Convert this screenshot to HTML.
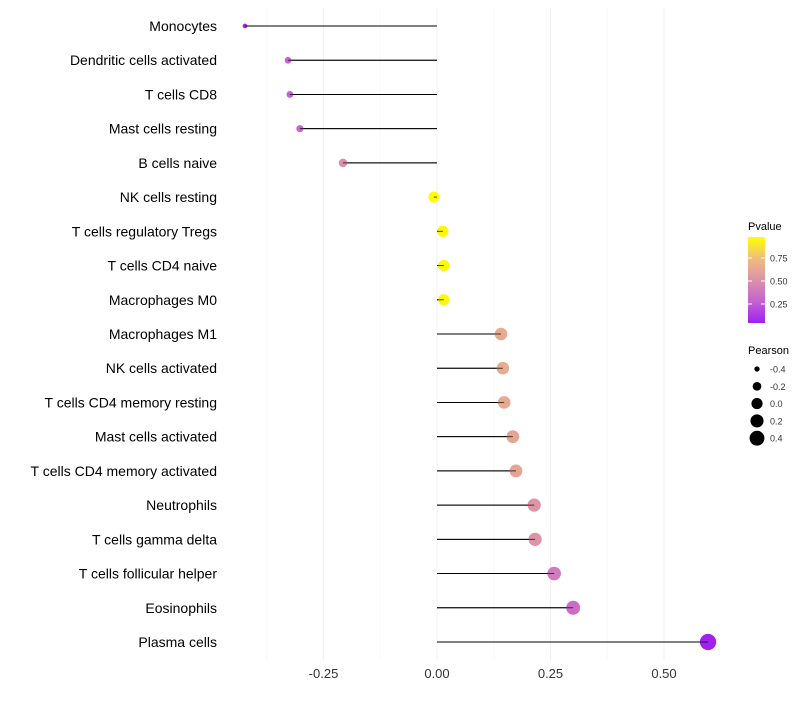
<!DOCTYPE html>
<html><head><meta charset="utf-8"><style>
body{margin:0;background:#fff;font-family:"Liberation Sans",sans-serif}
svg text{font-family:"Liberation Sans",sans-serif}
</style></head><body>
<svg id="chart" width="800" height="700" xmlns="http://www.w3.org/2000/svg">
<defs><linearGradient id="pg" x1="0" y1="1" x2="0" y2="0">
<stop offset="0" stop-color="#a020f0"/><stop offset="0.25" stop-color="#c463d2"/>
<stop offset="0.5" stop-color="#db92a8"/><stop offset="0.75" stop-color="#efbd7e"/><stop offset="1" stop-color="#ffff00"/>
</linearGradient></defs>
<g id="grid"></g>
<g id="marks"></g>
<g id="ylabels"></g>
<g id="xlabels"></g>
<g>
<text x="748" y="230" font-size="11" fill="#000">Pvalue</text>
<rect x="748" y="237" width="17" height="86" fill="url(#pg)"/>
<g id="cbticks"></g>
</g>
<g id="sizeleg">
<text x="748" y="354" font-size="11" fill="#000">Pearson</text>
</g>
</svg>
<script>
const categories=["Monocytes","Dendritic cells activated","T cells CD8","Mast cells resting","B cells naive","NK cells resting","T cells regulatory  Tregs ","T cells CD4 naive","Macrophages M0","Macrophages M1","NK cells activated","T cells CD4 memory resting","Mast cells activated","T cells CD4 memory activated","Neutrophils","T cells gamma delta","T cells follicular helper","Eosinophils","Plasma cells"];
const pearson=[-0.423,-0.328,-0.324,-0.302,-0.207,-0.007,0.013,0.015,0.015,0.141,0.145,0.148,0.167,0.174,0.214,0.216,0.258,0.300,0.597];
const pvalue=[0.06,0.28,0.28,0.30,0.50,0.97,0.95,0.95,0.95,0.65,0.65,0.64,0.62,0.61,0.52,0.52,0.40,0.33,0.05];
const xTicks=[-0.25,0,0.25,0.5];
const xTickLabels=["-0.25","0.00","0.25","0.50"];
const cbTicks=[0.25,0.5,0.75];
const sizeTicks=[-0.4,-0.2,0,0.2,0.4];
const NS="http://www.w3.org/2000/svg";
const x=v=>437+v*454;
const y=i=>26+i*(616/18);
const pY=p=>323-(p-0.043)/(0.978-0.043)*86;
const rad=v=>Math.sqrt(4+(v+0.45)*(60));
function col(p){const st=[[0,[160,32,240]],[0.25,[196,99,210]],[0.5,[219,146,168]],[0.75,[239,189,126]],[1,[255,255,0]]];
 const t=Math.max(0,Math.min(1,(p-0.043)/(0.978-0.043)));
 for(let k=1;k<st.length;k++){if(t<=st[k][0]){const a=st[k-1],b=st[k],f=(t-a[0])/(b[0]-a[0]);return "rgb("+a[1].map((c,j)=>Math.round(c+(b[1][j]-c)*f)).join(",")+")";}}return "rgb(255,255,0)";}
function mk(tag,at,parent){const e=document.createElementNS(NS,tag);for(const k in at)e.setAttribute(k,at[k]);document.getElementById(parent).appendChild(e);return e;}
[-0.375,-0.125,0.125,0.375].forEach(v=>{const l=mk("line",{x1:x(v),x2:x(v),y1:8,y2:660,stroke:"#f8f8f8","stroke-width":1},"grid");

});
xTicks.forEach((v,i)=>{const l=mk("line",{x1:x(v),x2:x(v),y1:8,y2:660,stroke:"#f0f0f0","stroke-width":1},"grid");


const t=mk("text",{x:x(v),y:678,"font-size":13,"text-anchor":"middle",fill:"#333"},"xlabels");t.textContent=xTickLabels[i];

});
categories.forEach((c,i)=>{
 const t=mk("text",{x:217,y:y(i)+5,"font-size":14,"text-anchor":"end",fill:"#000"},"ylabels");t.textContent=c;
 
 
 const l=mk("line",{x1:x(0),x2:x(pearson[i]),y1:y(i),y2:y(i),stroke:"#000","stroke-width":1},"marks");
 
 
 const p=mk("circle",{cx:x(pearson[i]),cy:y(i),r:rad(pearson[i]),fill:col(pvalue[i])},"marks");
 
 
 const l2=mk("line",{x1:x(0),x2:x(pearson[i]),y1:y(i),y2:y(i),stroke:"#000","stroke-width":1,"stroke-opacity":0.7},"marks");
 
 
});
cbTicks.forEach(v=>{const yy=pY(v);
 const a=mk("line",{x1:748,x2:752,y1:yy,y2:yy,stroke:"#fff"},"cbticks");
 
 
 const b=mk("line",{x1:761,x2:765,y1:yy,y2:yy,stroke:"#fff"},"cbticks");
 
 
 const t=mk("text",{x:770,y:yy+3.5,"font-size":9,fill:"#333"},"cbticks");t.textContent=v.toFixed(2);
 
 });
sizeTicks.forEach((v,i)=>{const yy=369+i*17.3;
 const c=mk("circle",{cx:757,cy:yy,r:rad(v),fill:"#000"},"sizeleg");
 
 
 const t=mk("text",{x:770,y:yy+3.5,"font-size":9,fill:"#333"},"sizeleg");t.textContent=v.toFixed(1);
 
 });
</script>
</body></html>
